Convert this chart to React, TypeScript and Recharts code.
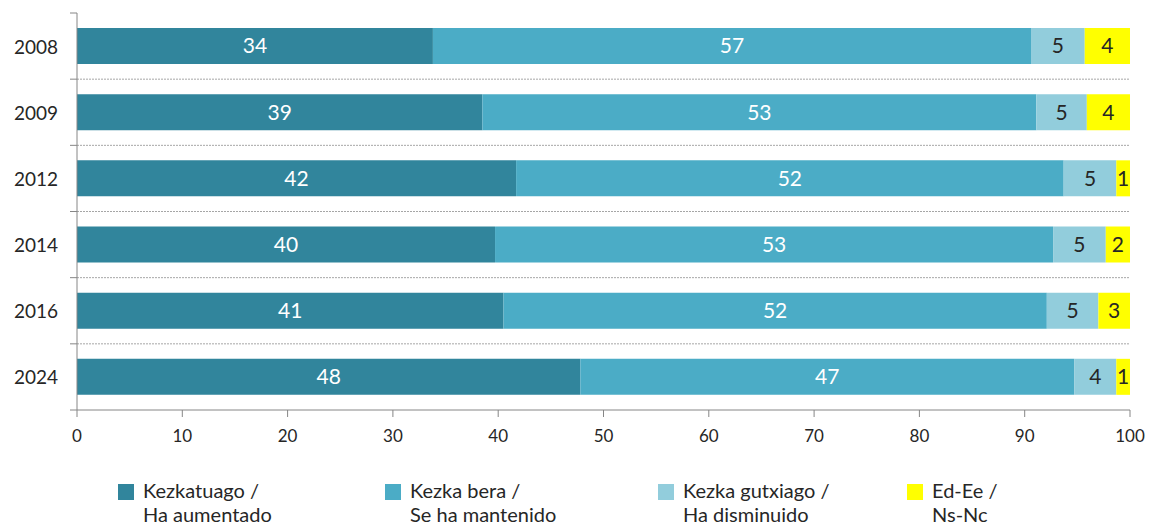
import React from "react";
import { BarChart, Bar, XAxis, YAxis, CartesianGrid, LabelList } from "recharts";

const years = ["2008", "2009", "2012", "2014", "2016", "2024"];
const aumentado = [33.8, 38.5, 41.7, 39.7, 40.5, 47.8];
const mantenido = [56.8, 52.6, 52.0, 53.0, 51.6, 46.9];
const disminuido = [5.1, 4.8, 5.0, 5.0, 4.9, 4.0];
const nsnc = [4.3, 4.1, 1.3, 2.3, 3.0, 1.3];

const seriesKeys = ["aumentado", "mantenido", "disminuido", "nsnc"];
const seriesLines = [
  ["Kezkatuago /", "Ha aumentado"],
  ["Kezka bera /", "Se ha mantenido"],
  ["Kezka gutxiago /", "Ha disminuido"],
  ["Ed-Ee /", "Ns-Nc"],
];
const xTicks = [0, 10, 20, 30, 40, 50, 60, 70, 80, 90, 100];

const COLORS = ["#31859C", "#4BACC6", "#92CDDC", "#FFFF00"];
const LABEL_COLORS = ["#ffffff", "#ffffff", "#262626", "#262626"];

const data = years.map((year, i) => ({
  year,
  aumentado: aumentado[i],
  mantenido: mantenido[i],
  disminuido: disminuido[i],
  nsnc: nsnc[i],
}));

const FONT = "Lato, 'Open Sans', sans-serif";
const W = 1150;
const H = 448;
const MARGIN = { top: 13, right: 20, left: 0, bottom: 0 };
const X_AXIS_H = 38;
const Y_AXIS_W = 77;
const BAND = (H - MARGIN.top - MARGIN.bottom - X_AXIS_H) / years.length;

// category label plus tick marks on the band edges (Excel style)
function YearTick({ x, y, payload, index }: any) {
  const top = y - BAND / 2;
  const bottom = y + BAND / 2;
  return (
    <g>
      <text x={x - 19} y={y} textAnchor="end" dominantBaseline="central" fontSize={19} fill="#262626" fontFamily={FONT}>
        {payload.value}
      </text>
      <line x1={x - 7} x2={x} y1={top} y2={top} stroke="#868686" />
      {index === years.length - 1 && <line x1={x - 7} x2={x} y1={bottom} y2={bottom} stroke="#868686" />}
    </g>
  );
}

// grid lines between the bars instead of through them
const bandEdges = ({ offset }: any) => {
  const out: number[] = [];
  for (let i = 1; i < years.length; i++) out.push(offset.top + (offset.height * i) / years.length);
  return out;
};

export default function App() {
  return (
    <div style={{ position: "relative", width: W, height: 530, fontFamily: FONT, overflow: "hidden" }}>
      <style>{"body{margin:0}"}</style>
      <BarChart width={W} height={H} data={data} layout="vertical" margin={MARGIN}>
        <CartesianGrid
          vertical={false}
          horizontalCoordinatesGenerator={bandEdges}
          stroke="#a6a6a6"
          strokeDasharray="2 1"
        />
        <XAxis
          type="number"
          domain={[0, 100]}
          ticks={xTicks}
          height={X_AXIS_H}
          tickSize={7}
          tickMargin={13}
          axisLine={{ stroke: "#868686" }}
          tickLine={{ stroke: "#868686" }}
          tick={{ fontSize: 17, fill: "#262626", fontFamily: FONT }}
        />
        <YAxis
          type="category"
          dataKey="year"
          width={Y_AXIS_W}
          tickSize={0}
          tickMargin={0}
          tickLine={false}
          axisLine={{ stroke: "#868686" }}
          tick={<YearTick />}
        />
        {seriesKeys.map((key, i) => (
          <Bar key={key} dataKey={key} stackId="a" fill={COLORS[i]} barSize={36} isAnimationActive={false}>
            <LabelList
              dataKey={key}
              position="center"
              formatter={(v: any) => Math.round(Number(v))}
              fill={LABEL_COLORS[i]}
              fontSize={21}
              fontFamily={FONT}
            />
          </Bar>
        ))}
      </BarChart>
      {seriesLines.map((lines, i) => (
        <div
          key={i}
          style={{
            position: "absolute",
            left: [118, 385, 658, 907][i],
            top: 478,
            display: "flex",
            alignItems: "flex-start",
            color: "#262626",
            fontSize: 20,
            lineHeight: "24px",
          }}
        >
          <span style={{ width: 16, height: 16, background: COLORS[i], marginTop: 6, marginRight: 9 }} />
          <div>
            {lines.map((l) => (
              <div key={l}>{l}</div>
            ))}
          </div>
        </div>
      ))}
    </div>
  );
}
